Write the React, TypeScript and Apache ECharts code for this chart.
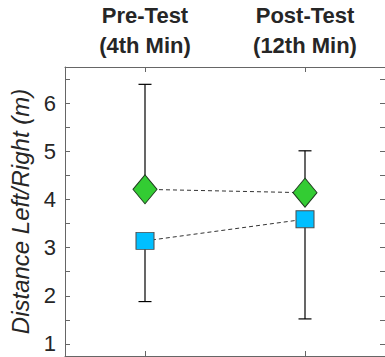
import React, { useEffect, useRef } from "react";
import * as echarts from "echarts";

const categories = ["Pre-Test\n(4th Min)", "Post-Test\n(12th Min)"];
const catPositions = [1, 2];
const greenMeans = [4.21, 4.14];
const greenUpper = [6.39, 5.01];
const blueMeans = [3.14, 3.59];
const blueLower = [1.88, 1.52];
const yLabels = [1, 2, 3, 4, 5, 6];
const yTicks = [1, 1.5, 2, 2.5, 3, 3.5, 4, 4.5, 5, 5.5, 6, 6.5];

const FONT = "'Liberation Sans', Arial, Helvetica, sans-serif";
const FRAME = "#666666";

export default function App() {
  const ref = useRef<HTMLDivElement>(null);
  useEffect(() => {
    if (!ref.current) return;
    const chart = echarts.init(ref.current, undefined, { renderer: "svg" });
    const errData = [
      ...catPositions.map((x, i) => [x, greenMeans[i], greenUpper[i]]),
      ...catPositions.map((x, i) => [x, blueMeans[i], blueLower[i]]),
    ];
    const baseX = {
      type: "value" as const,
      min: 0.5,
      max: 2.5,
      axisLine: { show: true, lineStyle: { color: FRAME, width: 1 } },
      splitLine: { show: false },
    };
    const baseY = {
      type: "value" as const,
      min: 0.75,
      max: 6.75,
      axisLine: { show: true, lineStyle: { color: FRAME, width: 1 } },
      splitLine: { show: false },
    };
    chart.setOption({
      animation: false,
      grid: { left: 65, top: 67, right: -3, bottom: 1, containLabel: false },
      xAxis: [
        {
          ...baseX,
          position: "top",
          axisTick: { show: true, inside: true, length: 5, customValues: catPositions, lineStyle: { color: FRAME } },
          axisLabel: {
            show: true,
            customValues: catPositions,
            formatter: (v: number) => categories[catPositions.indexOf(Math.round(v))] ?? "",
            fontFamily: FONT,
            fontWeight: "bold",
            fontSize: 22,
            lineHeight: 30,
            color: "#262626",
            margin: 7,
          },
        },
        {
          ...baseX,
          position: "bottom",
          axisTick: { show: true, inside: true, length: 5, customValues: catPositions, lineStyle: { color: FRAME } },
          axisLabel: { show: false },
        },
      ],
      yAxis: [
        {
          ...baseY,
          position: "left",
          name: "Distance Left/Right (m)",
          nameLocation: "middle",
          nameGap: 32,
          nameTextStyle: { fontFamily: FONT, fontStyle: "italic", fontSize: 24, color: "#262626" },
          axisTick: { show: true, inside: true, length: 5, customValues: yTicks, lineStyle: { color: FRAME } },
          axisLabel: {
            show: true,
            customValues: yLabels,
            fontFamily: FONT,
            fontSize: 22,
            color: "#262626",
            margin: 9,
          },
        },
        {
          ...baseY,
          position: "right",
          axisTick: { show: true, inside: true, length: 5, customValues: yTicks, lineStyle: { color: FRAME } },
          axisLabel: { show: false },
        },
      ],
      series: [
        {
          type: "custom",
          z: 1,
          data: errData,
          renderItem: (params: any, api: any) => {
            const x = api.value(0);
            const m = api.coord([x, api.value(1)]);
            const b = api.coord([x, api.value(2)]);
            const half = 6.5;
            return {
              type: "group",
              children: [
                { type: "line", shape: { x1: m[0], y1: m[1], x2: b[0], y2: b[1] }, style: { stroke: "#000", lineWidth: 1.2 } },
                { type: "line", shape: { x1: b[0] - half, y1: b[1], x2: b[0] + half, y2: b[1] }, style: { stroke: "#000", lineWidth: 1.2 } },
              ],
            };
          },
        },
        {
          type: "line",
          z: 3,
          data: catPositions.map((x, i) => [x, greenMeans[i]]),
          symbol: "diamond",
          symbolSize: [24, 29],
          itemStyle: { color: "#33cc33", borderColor: "#1f3d1f", borderWidth: 1 },
          lineStyle: { color: "#333", width: 1, type: [4, 3] },
        },
        {
          type: "line",
          z: 3,
          data: catPositions.map((x, i) => [x, blueMeans[i]]),
          symbol: "rect",
          symbolSize: [18, 17],
          itemStyle: { color: "#00bfff", borderColor: "#4d4d4d", borderWidth: 1 },
          lineStyle: { color: "#333", width: 1, type: [4, 3] },
        },
      ],
    });
    return () => chart.dispose();
  }, []);
  return <div ref={ref} style={{ width: 385, height: 357, position: "absolute", left: 0, top: 0 }} />;
}
